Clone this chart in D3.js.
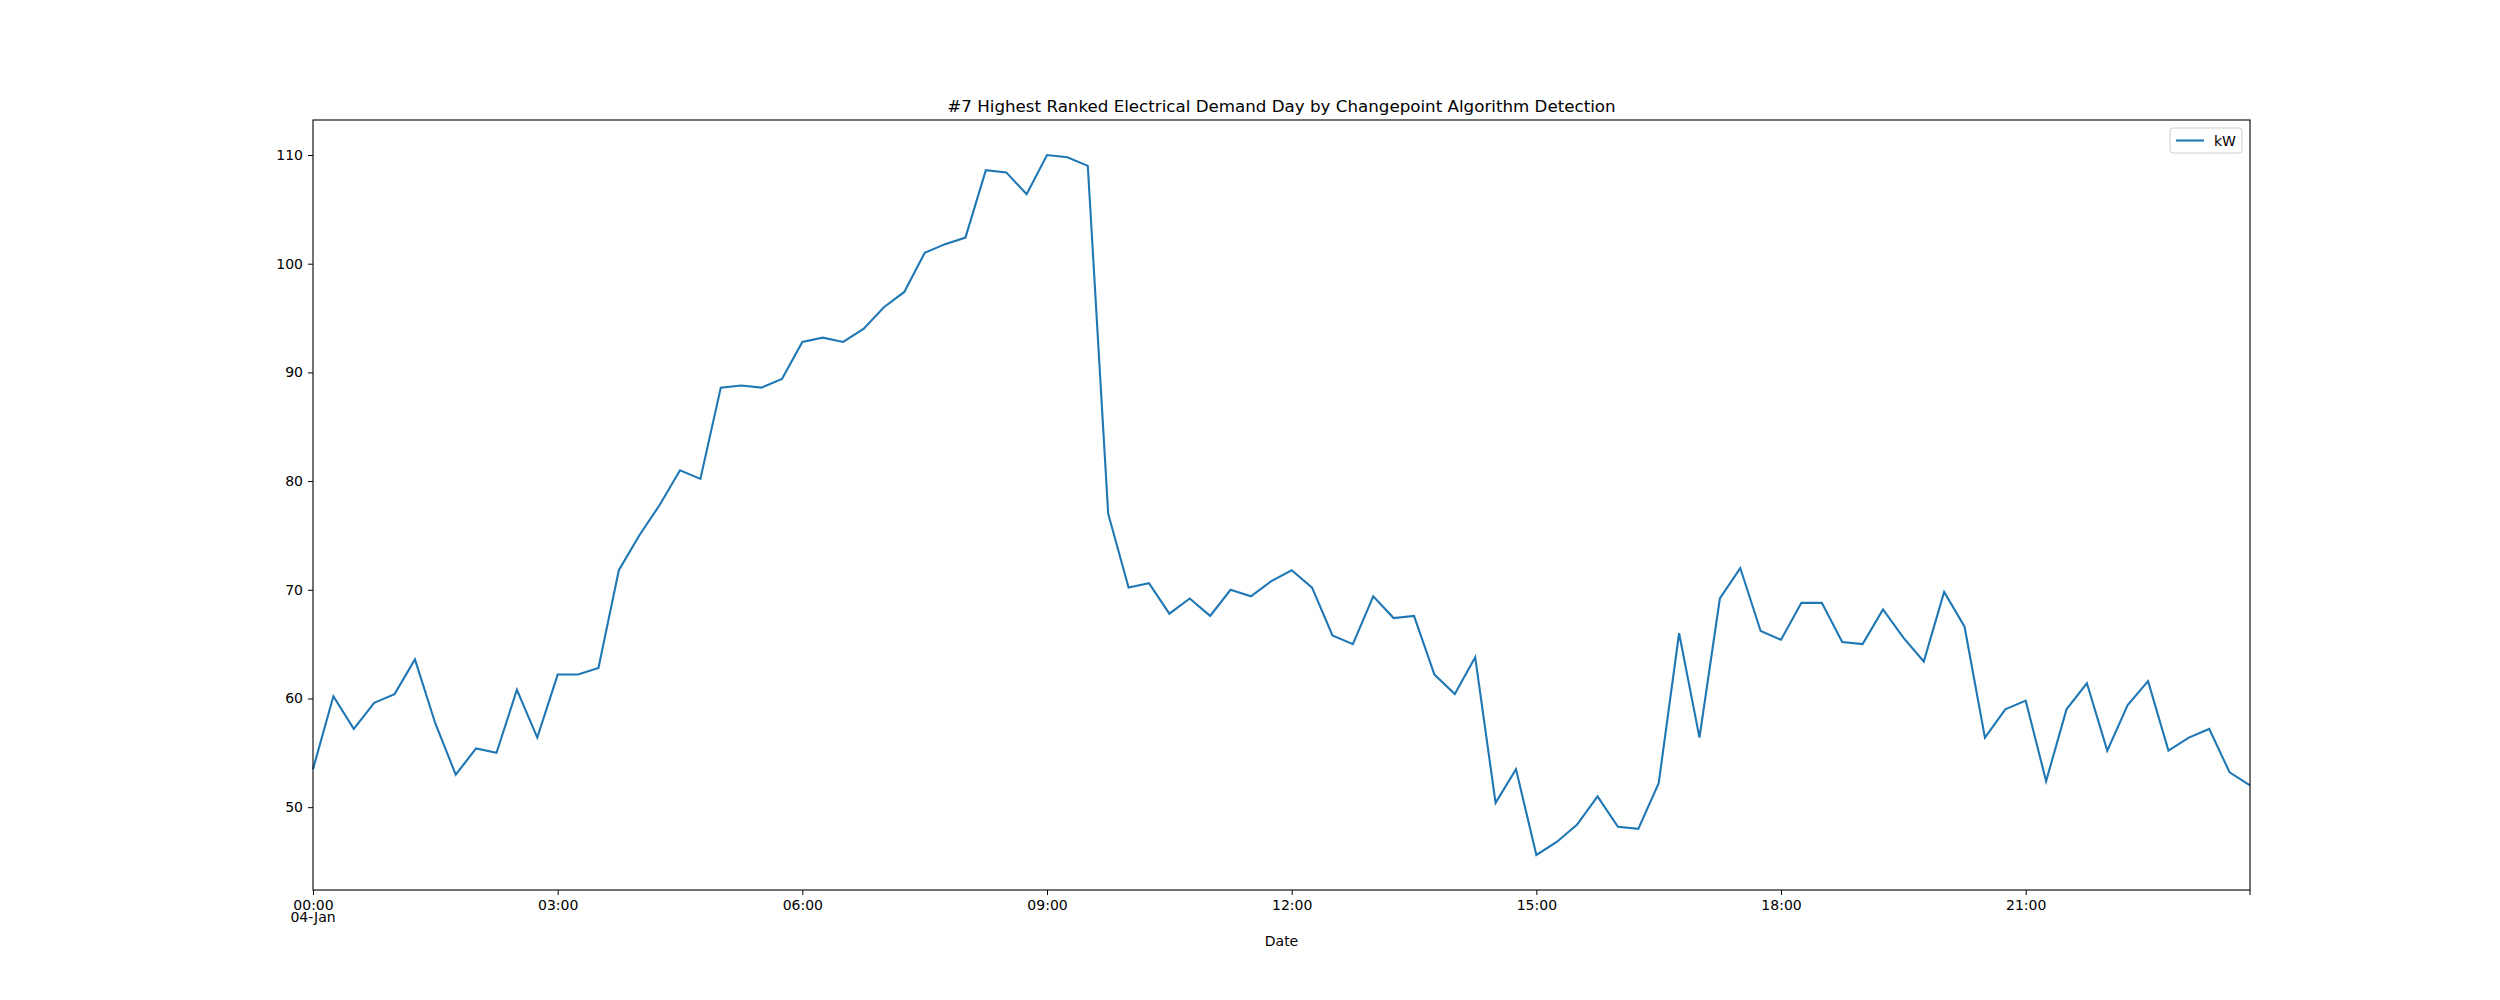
<!DOCTYPE html>
<html>
<head>
<meta charset="utf-8">
<script src="https://cdn.jsdelivr.net/npm/d3@7"></script>
<style>
  body { margin: 0; background: #fff; }
  text { font-family: "DejaVu Sans", sans-serif; fill: #000; }
</style>
</head>
<body>
<svg id="chart" width="2500" height="1000"></svg>
<script>
// 15-minute readings for 04-Jan, kW
const startTime = '2000-01-04 00:00';
const kwValues = [
  53.5, 60.2, 57.2, 59.6, 60.4, 63.6, 57.7, 53.0, 55.4, 55.0, 60.8, 56.4,
  62.2, 62.2, 62.8, 71.8, 75.0, 77.8, 81.0, 80.2, 88.6, 88.8, 88.6, 89.4,
  92.8, 93.2, 92.8, 94.0, 96.0, 97.4, 101.0, 101.8, 102.4, 108.6, 108.4, 106.4,
  110.0, 109.8, 109.0, 77.0, 70.2, 70.6, 67.8, 69.2, 67.6, 70.0, 69.4, 70.8,
  71.8, 70.2, 65.8, 65.0, 69.4, 67.4, 67.6, 62.2, 60.4, 63.8, 50.4, 53.5,
  45.6, 46.8, 48.4, 51.0, 48.2, 48.0, 52.2, 66.0, 56.4, 69.2, 72.0, 66.2,
  65.4, 68.8, 68.8, 65.2, 65.0, 68.2, 65.6, 63.4, 69.8, 66.6, 56.4, 59.0,
  59.8, 52.4, 59.0, 61.4, 55.2, 59.4, 61.6, 55.2, 56.4, 57.2, 53.2, 52.0,
];
const yTicks = [50, 60, 70, 80, 90, 100, 110];
const seriesName = 'kW';
const title = '#7 Highest Ranked Electrical Demand Day by Changepoint Algorithm Detection';

const parse = d3.timeParse('%Y-%m-%d %H:%M');
const t0 = parse(startTime);
const data = kwValues.map((v, i) => ({ t: d3.timeMinute.offset(t0, i * 15), v }));

const svg = d3.select('#chart');
const margin = { top: 120, right: 250, bottom: 110, left: 313 };
const width = 2500, height = 1000;

const x = d3.scaleTime()
  .domain(d3.extent(data, (d) => d.t))
  .range([margin.left, width - margin.right]);

const [vmin, vmax] = d3.extent(kwValues);
const pad = (vmax - vmin) * 0.05;
const y = d3.scaleLinear()
  .domain([vmin - pad, vmax + pad])
  .range([height - margin.bottom, margin.top]);

// X axis: 3-hour major ticks
const xTicks = d3.timeHour.every(3).range(t0, d3.timeHour.offset(t0, 24));
const xAxis = svg.append('g')
  .attr('transform', `translate(0,${height - margin.bottom})`)
  .call(d3.axisBottom(x).tickValues(xTicks).tickFormat(d3.timeFormat('%H:%M')).tickSize(5).tickPadding(5));
xAxis.select('.domain').remove();
xAxis.selectAll('text').style('font-size', '14px');
xAxis.selectAll('line').attr('stroke', '#000');
// unlabeled tick at right edge
xAxis.append('line')
  .attr('x1', x.range()[1]).attr('x2', x.range()[1])
  .attr('y1', 0).attr('y2', 5).attr('stroke', '#000');
xAxis.append('text')
  .attr('x', x(t0)).attr('y', 32)
  .attr('text-anchor', 'middle')
  .style('font-size', '14px')
  .text(d3.timeFormat('%d-%b')(t0));

const yAxis = svg.append('g')
  .attr('transform', `translate(${margin.left},0)`)
  .call(d3.axisLeft(y).tickValues(yTicks).tickSize(5).tickPadding(5));
yAxis.select('.domain').remove();
yAxis.selectAll('text').style('font-size', '14px');
yAxis.selectAll('line').attr('stroke', '#000');

// Line
const line = d3.line()
  .x((d) => x(d.t))
  .y((d) => y(d.v));

svg.append('path')
  .datum(data)
  .attr('fill', 'none')
  .attr('stroke', '#1f77b4')
  .attr('stroke-width', 2.1)
  .attr('d', line);

// Frame
svg.append('rect')
  .attr('x', margin.left).attr('y', margin.top)
  .attr('width', width - margin.left - margin.right)
  .attr('height', height - margin.top - margin.bottom)
  .attr('fill', 'none').attr('stroke', '#000').attr('stroke-width', 1.1);

// Title and label
svg.append('text')
  .attr('x', (margin.left + width - margin.right) / 2).attr('y', 112)
  .attr('text-anchor', 'middle').style('font-size', '16.7px')
  .text(title);
svg.append('text')
  .attr('x', (margin.left + width - margin.right) / 2).attr('y', 946)
  .attr('text-anchor', 'middle').style('font-size', '14px')
  .text('Date');

// Legend
const lg = svg.append('g').attr('transform', `translate(${width - margin.right - 80},128)`);
lg.append('rect').attr('width', 72).attr('height', 25).attr('rx', 3)
  .attr('fill', '#fff').attr('stroke', '#ccc').attr('stroke-width', 1);
lg.append('line').attr('x1', 6).attr('x2', 34).attr('y1', 12.5).attr('y2', 12.5)
  .attr('stroke', '#1f77b4').attr('stroke-width', 2.1);
lg.append('text').attr('x', 44).attr('y', 17.5).style('font-size', '14px').text(seriesName);
</script>
</body>
</html>
